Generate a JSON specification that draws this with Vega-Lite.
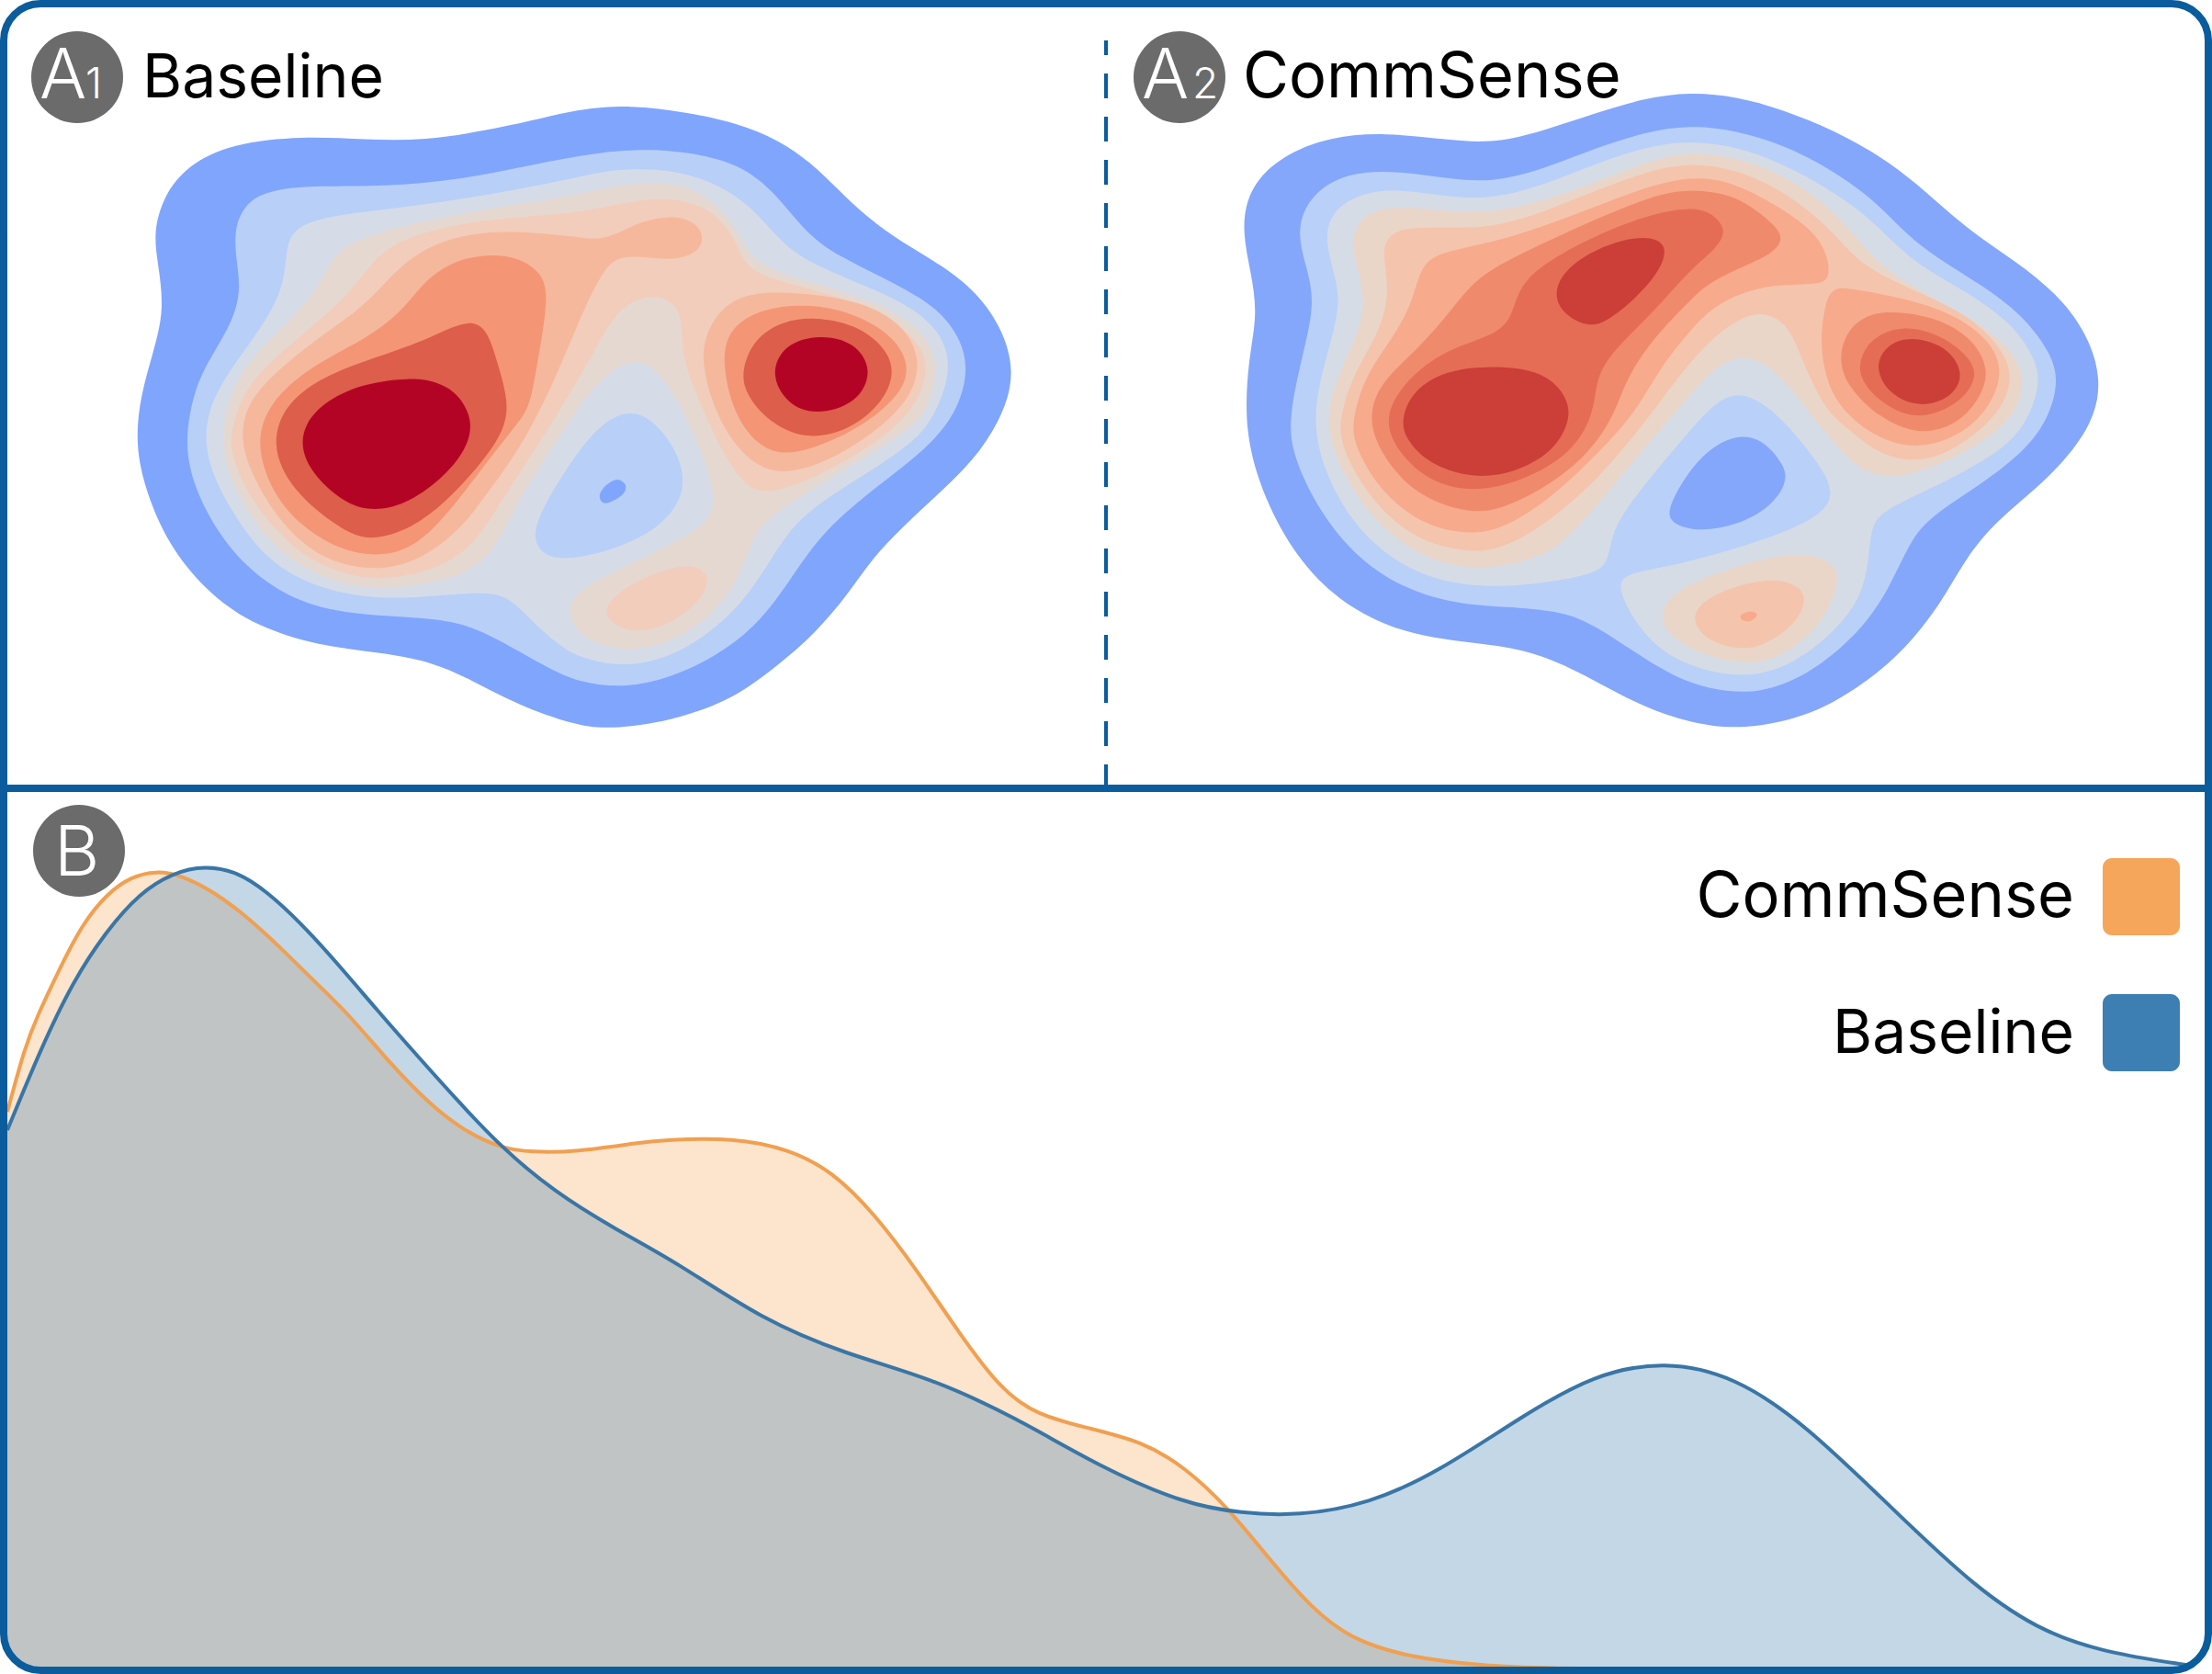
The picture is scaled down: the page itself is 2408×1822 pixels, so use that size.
{"$schema":"https://vega.github.io/schema/vega-lite/v6.json","width":2408,"height":1822,"padding":0,"autosize":"none","background":"#ffffff","config":{"view":{"stroke":null},"axis":{"domain":false,"ticks":false,"labels":false,"grid":false,"title":null}},
"encoding":{"x":{"field":"x","type":"quantitative","axis":null,"scale":{"domain":[0,2408],"nice":false,"zero":false}},"y":{"field":"y","type":"quantitative","axis":null,"scale":{"domain":[1822,0],"nice":false,"zero":false}}},
"layer":[
{"data":{"values":[
{"c":"a0","x":630,"y":119},{"c":"a0","x":687,"y":114},{"c":"a0","x":747,"y":122},{"c":"a0","x":803,"y":134},{"c":"a0","x":847,"y":152},{"c":"a0","x":883,"y":177},{"c":"a0","x":913,"y":207},{"c":"a0","x":940,"y":233},{"c":"a0","x":980,"y":263},{"c":"a0","x":1023,"y":287},{"c":"a0","x":1065,"y":319},{"c":"a0","x":1092,"y":360},{"c":"a0","x":1104,"y":403},{"c":"a0","x":1095,"y":445},{"c":"a0","x":1067,"y":493},{"c":"a0","x":1030,"y":530},{"c":"a0","x":983,"y":573},{"c":"a0","x":950,"y":607},{"c":"a0","x":923,"y":647},{"c":"a0","x":887,"y":690},{"c":"a0","x":847,"y":724},{"c":"a0","x":797,"y":762},{"c":"a0","x":730,"y":785},{"c":"a0","x":663,"y":794},{"c":"a0","x":625,"y":789},{"c":"a0","x":563,"y":767},{"c":"a0","x":513,"y":740},{"c":"a0","x":470,"y":720},{"c":"a0","x":413,"y":710},{"c":"a0","x":347,"y":703},{"c":"a0","x":280,"y":682},{"c":"a0","x":230,"y":649},{"c":"a0","x":186,"y":598},{"c":"a0","x":159,"y":537},{"c":"a0","x":147,"y":483},{"c":"a0","x":153,"y":430},{"c":"a0","x":167,"y":383},{"c":"a0","x":179,"y":337},{"c":"a0","x":172,"y":287},{"c":"a0","x":167,"y":253},{"c":"a0","x":178,"y":213},{"c":"a0","x":205,"y":179},{"c":"a0","x":253,"y":156},{"c":"a0","x":330,"y":148},{"c":"a0","x":397,"y":152},{"c":"a0","x":463,"y":153},{"c":"a0","x":530,"y":142},{"c":"a0","x":597,"y":127},
{"c":"a1","x":630,"y":169},{"c":"a1","x":697,"y":161},{"c":"a1","x":763,"y":167},{"c":"a1","x":811,"y":182},{"c":"a1","x":843,"y":210},{"c":"a1","x":867,"y":240},{"c":"a1","x":893,"y":267},{"c":"a1","x":930,"y":287},{"c":"a1","x":983,"y":313},{"c":"a1","x":1021,"y":336},{"c":"a1","x":1045,"y":367},{"c":"a1","x":1055,"y":403},{"c":"a1","x":1041,"y":451},{"c":"a1","x":1007,"y":490},{"c":"a1","x":963,"y":523},{"c":"a1","x":913,"y":563},{"c":"a1","x":880,"y":600},{"c":"a1","x":850,"y":647},{"c":"a1","x":820,"y":684},{"c":"a1","x":780,"y":714},{"c":"a1","x":730,"y":738},{"c":"a1","x":680,"y":749},{"c":"a1","x":630,"y":743},{"c":"a1","x":597,"y":727},{"c":"a1","x":563,"y":708},{"c":"a1","x":513,"y":680},{"c":"a1","x":463,"y":672},{"c":"a1","x":380,"y":669},{"c":"a1","x":320,"y":654},{"c":"a1","x":272,"y":621},{"c":"a1","x":239,"y":583},{"c":"a1","x":212,"y":533},{"c":"a1","x":200,"y":483},{"c":"a1","x":212,"y":420},{"c":"a1","x":233,"y":383},{"c":"a1","x":253,"y":350},{"c":"a1","x":262,"y":317},{"c":"a1","x":258,"y":287},{"c":"a1","x":254,"y":250},{"c":"a1","x":268,"y":219},{"c":"a1","x":297,"y":206},{"c":"a1","x":347,"y":202},{"c":"a1","x":420,"y":203},{"c":"a1","x":497,"y":196},{"c":"a1","x":563,"y":183},
{"c":"a2","x":630,"y":193},{"c":"a2","x":663,"y":185},{"c":"a2","x":713,"y":183},{"c":"a2","x":763,"y":192},{"c":"a2","x":808,"y":216},{"c":"a2","x":837,"y":247},{"c":"a2","x":860,"y":273},{"c":"a2","x":897,"y":293},{"c":"a2","x":957,"y":317},{"c":"a2","x":1001,"y":339},{"c":"a2","x":1029,"y":370},{"c":"a2","x":1035,"y":405},{"c":"a2","x":1019,"y":450},{"c":"a2","x":997,"y":480},{"c":"a2","x":947,"y":513},{"c":"a2","x":887,"y":550},{"c":"a2","x":857,"y":580},{"c":"a2","x":837,"y":613},{"c":"a2","x":807,"y":658},{"c":"a2","x":770,"y":691},{"c":"a2","x":730,"y":715},{"c":"a2","x":680,"y":727},{"c":"a2","x":630,"y":716},{"c":"a2","x":607,"y":701},{"c":"a2","x":580,"y":677},{"c":"a2","x":556,"y":651},{"c":"a2","x":530,"y":644},{"c":"a2","x":480,"y":648},{"c":"a2","x":413,"y":653},{"c":"a2","x":347,"y":641},{"c":"a2","x":296,"y":614},{"c":"a2","x":262,"y":573},{"c":"a2","x":232,"y":520},{"c":"a2","x":223,"y":483},{"c":"a2","x":226,"y":447},{"c":"a2","x":247,"y":407},{"c":"a2","x":277,"y":367},{"c":"a2","x":301,"y":330},{"c":"a2","x":311,"y":297},{"c":"a2","x":312,"y":263},{"c":"a2","x":325,"y":246},{"c":"a2","x":357,"y":235},{"c":"a2","x":430,"y":227},{"c":"a2","x":530,"y":213},
{"c":"a3","x":630,"y":212},{"c":"a3","x":663,"y":203},{"c":"a3","x":713,"y":198},{"c":"a3","x":748,"y":202},{"c":"a3","x":781,"y":222},{"c":"a3","x":804,"y":253},{"c":"a3","x":816,"y":278},{"c":"a3","x":837,"y":293},{"c":"a3","x":880,"y":307},{"c":"a3","x":937,"y":323},{"c":"a3","x":981,"y":342},{"c":"a3","x":1012,"y":370},{"c":"a3","x":1022,"y":405},{"c":"a3","x":1008,"y":450},{"c":"a3","x":990,"y":467},{"c":"a3","x":930,"y":505},{"c":"a3","x":870,"y":540},{"c":"a3","x":829,"y":570},{"c":"a3","x":817,"y":593},{"c":"a3","x":801,"y":638},{"c":"a3","x":770,"y":674},{"c":"a3","x":730,"y":700},{"c":"a3","x":683,"y":709},{"c":"a3","x":650,"y":701},{"c":"a3","x":628,"y":688},{"c":"a3","x":616,"y":663},{"c":"a3","x":630,"y":641},{"c":"a3","x":680,"y":617},{"c":"a3","x":730,"y":593},{"c":"a3","x":772,"y":569},{"c":"a3","x":780,"y":540},{"c":"a3","x":763,"y":490},{"c":"a3","x":744,"y":447},{"c":"a3","x":721,"y":408},{"c":"a3","x":693,"y":387},{"c":"a3","x":656,"y":409},{"c":"a3","x":630,"y":443},{"c":"a3","x":597,"y":493},{"c":"a3","x":563,"y":547},{"c":"a3","x":541,"y":594},{"c":"a3","x":514,"y":622},{"c":"a3","x":470,"y":635},{"c":"a3","x":417,"y":642},{"c":"a3","x":370,"y":636},{"c":"a3","x":319,"y":614},{"c":"a3","x":279,"y":573},{"c":"a3","x":252,"y":527},{"c":"a3","x":239,"y":480},{"c":"a3","x":252,"y":420},{"c":"a3","x":280,"y":383},{"c":"a3","x":317,"y":347},{"c":"a3","x":347,"y":313},{"c":"a3","x":362,"y":279},{"c":"a3","x":383,"y":262},{"c":"a3","x":447,"y":243},{"c":"a3","x":530,"y":227},
{"c":"a4","x":630,"y":232},{"c":"a4","x":673,"y":222},{"c":"a4","x":720,"y":214},{"c":"a4","x":764,"y":222},{"c":"a4","x":794,"y":247},{"c":"a4","x":806,"y":278},{"c":"a4","x":820,"y":297},{"c":"a4","x":863,"y":310},{"c":"a4","x":913,"y":323},{"c":"a4","x":964,"y":342},{"c":"a4","x":1002,"y":373},{"c":"a4","x":1012,"y":405},{"c":"a4","x":993,"y":450},{"c":"a4","x":947,"y":487},{"c":"a4","x":880,"y":524},{"c":"a4","x":833,"y":538},{"c":"a4","x":811,"y":529},{"c":"a4","x":787,"y":493},{"c":"a4","x":773,"y":463},{"c":"a4","x":757,"y":427},{"c":"a4","x":742,"y":387},{"c":"a4","x":743,"y":350},{"c":"a4","x":735,"y":329},{"c":"a4","x":707,"y":319},{"c":"a4","x":672,"y":336},{"c":"a4","x":650,"y":377},{"c":"a4","x":630,"y":412},{"c":"a4","x":603,"y":457},{"c":"a4","x":580,"y":493},{"c":"a4","x":543,"y":550},{"c":"a4","x":518,"y":591},{"c":"a4","x":480,"y":618},{"c":"a4","x":430,"y":630},{"c":"a4","x":390,"y":630},{"c":"a4","x":336,"y":611},{"c":"a4","x":296,"y":573},{"c":"a4","x":269,"y":537},{"c":"a4","x":251,"y":493},{"c":"a4","x":251,"y":473},{"c":"a4","x":261,"y":433},{"c":"a4","x":290,"y":397},{"c":"a4","x":330,"y":363},{"c":"a4","x":370,"y":330},{"c":"a4","x":397,"y":297},{"c":"a4","x":422,"y":266},{"c":"a4","x":480,"y":247},{"c":"a4","x":547,"y":237},
{"c":"a5","x":630,"y":258},{"c":"a5","x":647,"y":261},{"c":"a5","x":667,"y":257},{"c":"a5","x":693,"y":243},{"c":"a5","x":720,"y":236},{"c":"a5","x":745,"y":236},{"c":"a5","x":765,"y":249},{"c":"a5","x":765,"y":269},{"c":"a5","x":748,"y":280},{"c":"a5","x":723,"y":283},{"c":"a5","x":680,"y":277},{"c":"a5","x":662,"y":287},{"c":"a5","x":647,"y":313},{"c":"a5","x":630,"y":350},{"c":"a5","x":597,"y":430},{"c":"a5","x":563,"y":493},{"c":"a5","x":530,"y":537},{"c":"a5","x":504,"y":574},{"c":"a5","x":457,"y":611},{"c":"a5","x":407,"y":622},{"c":"a5","x":356,"y":611},{"c":"a5","x":316,"y":581},{"c":"a5","x":286,"y":540},{"c":"a5","x":261,"y":487},{"c":"a5","x":266,"y":443},{"c":"a5","x":297,"y":407},{"c":"a5","x":347,"y":367},{"c":"a5","x":397,"y":333},{"c":"a5","x":423,"y":303},{"c":"a5","x":456,"y":272},{"c":"a5","x":507,"y":254},{"c":"a5","x":563,"y":251},
{"c":"a5r","x":830,"y":316},{"c":"a5r","x":897,"y":321},{"c":"a5r","x":948,"y":332},{"c":"a5r","x":985,"y":356},{"c":"a5r","x":1002,"y":390},{"c":"a5r","x":995,"y":424},{"c":"a5r","x":975,"y":450},{"c":"a5r","x":947,"y":474},{"c":"a5r","x":897,"y":505},{"c":"a5r","x":843,"y":519},{"c":"a5r","x":806,"y":494},{"c":"a5r","x":778,"y":450},{"c":"a5r","x":762,"y":390},{"c":"a5r","x":771,"y":356},{"c":"a5r","x":792,"y":328},
{"c":"a6","x":530,"y":276},{"c":"a6","x":564,"y":280},{"c":"a6","x":589,"y":296},{"c":"a6","x":597,"y":320},{"c":"a6","x":589,"y":373},{"c":"a6","x":583,"y":407},{"c":"a6","x":576,"y":445},{"c":"a6","x":560,"y":465},{"c":"a6","x":530,"y":503},{"c":"a6","x":484,"y":564},{"c":"a6","x":447,"y":599},{"c":"a6","x":407,"y":606},{"c":"a6","x":369,"y":598},{"c":"a6","x":329,"y":574},{"c":"a6","x":296,"y":537},{"c":"a6","x":278,"y":483},{"c":"a6","x":292,"y":439},{"c":"a6","x":337,"y":399},{"c":"a6","x":397,"y":370},{"c":"a6","x":437,"y":340},{"c":"a6","x":459,"y":309},{"c":"a6","x":490,"y":285},
{"c":"a6r","x":873,"y":331},{"c":"a6r","x":914,"y":336},{"c":"a6r","x":958,"y":355},{"c":"a6r","x":985,"y":382},{"c":"a6r","x":990,"y":414},{"c":"a6r","x":964,"y":445},{"c":"a6r","x":925,"y":472},{"c":"a6r","x":863,"y":497},{"c":"a6r","x":828,"y":489},{"c":"a6r","x":798,"y":451},{"c":"a6r","x":785,"y":390},{"c":"a6r","x":795,"y":356},{"c":"a6r","x":829,"y":336},
{"c":"a7","x":517,"y":349},{"c":"a7","x":532,"y":362},{"c":"a7","x":544,"y":403},{"c":"a7","x":554,"y":440},{"c":"a7","x":548,"y":471},{"c":"a7","x":521,"y":508},{"c":"a7","x":484,"y":548},{"c":"a7","x":448,"y":575},{"c":"a7","x":407,"y":588},{"c":"a7","x":382,"y":582},{"c":"a7","x":346,"y":558},{"c":"a7","x":312,"y":524},{"c":"a7","x":296,"y":483},{"c":"a7","x":309,"y":442},{"c":"a7","x":347,"y":412},{"c":"a7","x":397,"y":393},{"c":"a7","x":457,"y":373},{"c":"a7","x":493,"y":355},
{"c":"a7r","x":887,"y":345},{"c":"a7r","x":931,"y":353},{"c":"a7r","x":962,"y":376},{"c":"a7r","x":975,"y":403},{"c":"a7r","x":962,"y":438},{"c":"a7r","x":924,"y":469},{"c":"a7r","x":877,"y":479},{"c":"a7r","x":836,"y":459},{"c":"a7r","x":811,"y":428},{"c":"a7r","x":807,"y":403},{"c":"a7r","x":821,"y":368},{"c":"a7r","x":853,"y":349},
{"c":"a8","x":447,"y":411},{"c":"a8","x":475,"y":415},{"c":"a8","x":499,"y":428},{"c":"a8","x":515,"y":457},{"c":"a8","x":509,"y":488},{"c":"a8","x":481,"y":522},{"c":"a8","x":440,"y":550},{"c":"a8","x":407,"y":556},{"c":"a8","x":379,"y":550},{"c":"a8","x":345,"y":522},{"c":"a8","x":327,"y":491},{"c":"a8","x":331,"y":461},{"c":"a8","x":356,"y":435},{"c":"a8","x":397,"y":417},
{"c":"a8r","x":893,"y":364},{"c":"a8r","x":930,"y":372},{"c":"a8r","x":951,"y":403},{"c":"a8r","x":933,"y":440},{"c":"a8r","x":887,"y":452},{"c":"a8r","x":857,"y":440},{"c":"a8r","x":838,"y":407},{"c":"a8r","x":854,"y":374},
{"c":"a1h","x":693,"y":446},{"c":"a1h","x":719,"y":465},{"c":"a1h","x":742,"y":500},{"c":"a1h","x":746,"y":538},{"c":"a1h","x":721,"y":572},{"c":"a1h","x":680,"y":594},{"c":"a1h","x":630,"y":608},{"c":"a1h","x":595,"y":608},{"c":"a1h","x":579,"y":588},{"c":"a1h","x":588,"y":556},{"c":"a1h","x":629,"y":490},{"c":"a1h","x":662,"y":454},
{"c":"a4b","x":752,"y":612},{"c":"a4b","x":774,"y":626},{"c":"a4b","x":765,"y":652},{"c":"a4b","x":731,"y":679},{"c":"a4b","x":693,"y":690},{"c":"a4b","x":665,"y":679},{"c":"a4b","x":657,"y":663},{"c":"a4b","x":672,"y":645},{"c":"a4b","x":707,"y":625},
{"c":"b0","x":1840,"y":100},{"c":"b0","x":1890,"y":105},{"c":"b0","x":1940,"y":119},{"c":"b0","x":1997,"y":142},{"c":"b0","x":2047,"y":170},{"c":"b0","x":2087,"y":200},{"c":"b0","x":2123,"y":233},{"c":"b0","x":2157,"y":260},{"c":"b0","x":2207,"y":293},{"c":"b0","x":2248,"y":329},{"c":"b0","x":2275,"y":370},{"c":"b0","x":2287,"y":413},{"c":"b0","x":2281,"y":451},{"c":"b0","x":2260,"y":487},{"c":"b0","x":2223,"y":527},{"c":"b0","x":2173,"y":567},{"c":"b0","x":2140,"y":607},{"c":"b0","x":2113,"y":657},{"c":"b0","x":2073,"y":708},{"c":"b0","x":2030,"y":744},{"c":"b0","x":1973,"y":779},{"c":"b0","x":1897,"y":795},{"c":"b0","x":1840,"y":787},{"c":"b0","x":1790,"y":770},{"c":"b0","x":1740,"y":743},{"c":"b0","x":1690,"y":717},{"c":"b0","x":1640,"y":703},{"c":"b0","x":1573,"y":697},{"c":"b0","x":1513,"y":684},{"c":"b0","x":1457,"y":654},{"c":"b0","x":1412,"y":608},{"c":"b0","x":1376,"y":543},{"c":"b0","x":1354,"y":470},{"c":"b0","x":1359,"y":390},{"c":"b0","x":1369,"y":343},{"c":"b0","x":1362,"y":297},{"c":"b0","x":1351,"y":247},{"c":"b0","x":1361,"y":202},{"c":"b0","x":1396,"y":169},{"c":"b0","x":1447,"y":149},{"c":"b0","x":1507,"y":144},{"c":"b0","x":1573,"y":152},{"c":"b0","x":1623,"y":156},{"c":"b0","x":1673,"y":145},{"c":"b0","x":1740,"y":122},{"c":"b0","x":1790,"y":107},
{"c":"b1","x":1840,"y":136},{"c":"b1","x":1890,"y":142},{"c":"b1","x":1940,"y":157},{"c":"b1","x":1990,"y":182},{"c":"b1","x":2040,"y":217},{"c":"b1","x":2073,"y":253},{"c":"b1","x":2107,"y":280},{"c":"b1","x":2157,"y":310},{"c":"b1","x":2201,"y":342},{"c":"b1","x":2232,"y":383},{"c":"b1","x":2241,"y":413},{"c":"b1","x":2232,"y":451},{"c":"b1","x":2208,"y":488},{"c":"b1","x":2157,"y":527},{"c":"b1","x":2100,"y":563},{"c":"b1","x":2079,"y":590},{"c":"b1","x":2057,"y":640},{"c":"b1","x":2028,"y":684},{"c":"b1","x":1983,"y":724},{"c":"b1","x":1940,"y":747},{"c":"b1","x":1897,"y":756},{"c":"b1","x":1840,"y":746},{"c":"b1","x":1790,"y":717},{"c":"b1","x":1740,"y":683},{"c":"b1","x":1707,"y":667},{"c":"b1","x":1657,"y":661},{"c":"b1","x":1590,"y":659},{"c":"b1","x":1527,"y":641},{"c":"b1","x":1473,"y":604},{"c":"b1","x":1432,"y":550},{"c":"b1","x":1405,"y":490},{"c":"b1","x":1404,"y":450},{"c":"b1","x":1417,"y":390},{"c":"b1","x":1432,"y":330},{"c":"b1","x":1422,"y":290},{"c":"b1","x":1411,"y":250},{"c":"b1","x":1426,"y":212},{"c":"b1","x":1467,"y":187},{"c":"b1","x":1523,"y":186},{"c":"b1","x":1580,"y":195},{"c":"b1","x":1623,"y":198},{"c":"b1","x":1673,"y":187},{"c":"b1","x":1740,"y":160},{"c":"b1","x":1790,"y":144},
{"c":"b2","x":1840,"y":154},{"c":"b2","x":1890,"y":159},{"c":"b2","x":1940,"y":178},{"c":"b2","x":1990,"y":205},{"c":"b2","x":2030,"y":233},{"c":"b2","x":2057,"y":260},{"c":"b2","x":2090,"y":290},{"c":"b2","x":2140,"y":317},{"c":"b2","x":2191,"y":352},{"c":"b2","x":2215,"y":390},{"c":"b2","x":2221,"y":414},{"c":"b2","x":2211,"y":451},{"c":"b2","x":2188,"y":484},{"c":"b2","x":2140,"y":513},{"c":"b2","x":2090,"y":537},{"c":"b2","x":2049,"y":557},{"c":"b2","x":2037,"y":573},{"c":"b2","x":2035,"y":603},{"c":"b2","x":2028,"y":648},{"c":"b2","x":1997,"y":688},{"c":"b2","x":1950,"y":725},{"c":"b2","x":1897,"y":739},{"c":"b2","x":1840,"y":726},{"c":"b2","x":1802,"y":704},{"c":"b2","x":1778,"y":674},{"c":"b2","x":1761,"y":640},{"c":"b2","x":1768,"y":625},{"c":"b2","x":1807,"y":618},{"c":"b2","x":1840,"y":611},{"c":"b2","x":1907,"y":592},{"c":"b2","x":1965,"y":571},{"c":"b2","x":1998,"y":546},{"c":"b2","x":1988,"y":516},{"c":"b2","x":1963,"y":483},{"c":"b2","x":1934,"y":449},{"c":"b2","x":1897,"y":425},{"c":"b2","x":1869,"y":436},{"c":"b2","x":1840,"y":468},{"c":"b2","x":1807,"y":507},{"c":"b2","x":1770,"y":553},{"c":"b2","x":1754,"y":583},{"c":"b2","x":1751,"y":611},{"c":"b2","x":1737,"y":625},{"c":"b2","x":1673,"y":636},{"c":"b2","x":1613,"y":640},{"c":"b2","x":1546,"y":628},{"c":"b2","x":1489,"y":590},{"c":"b2","x":1449,"y":533},{"c":"b2","x":1426,"y":462},{"c":"b2","x":1443,"y":390},{"c":"b2","x":1461,"y":330},{"c":"b2","x":1450,"y":290},{"c":"b2","x":1441,"y":253},{"c":"b2","x":1456,"y":222},{"c":"b2","x":1497,"y":206},{"c":"b2","x":1540,"y":208},{"c":"b2","x":1590,"y":216},{"c":"b2","x":1633,"y":215},{"c":"b2","x":1690,"y":198},{"c":"b2","x":1757,"y":170},{"c":"b2","x":1807,"y":157},
{"c":"b3","x":1840,"y":166},{"c":"b3","x":1890,"y":171},{"c":"b3","x":1940,"y":190},{"c":"b3","x":1983,"y":218},{"c":"b3","x":2017,"y":253},{"c":"b3","x":2043,"y":287},{"c":"b3","x":2090,"y":317},{"c":"b3","x":2157,"y":353},{"c":"b3","x":2192,"y":383},{"c":"b3","x":2205,"y":414},{"c":"b3","x":2194,"y":451},{"c":"b3","x":2160,"y":481},{"c":"b3","x":2107,"y":508},{"c":"b3","x":2057,"y":523},{"c":"b3","x":2019,"y":509},{"c":"b3","x":1990,"y":473},{"c":"b3","x":1970,"y":450},{"c":"b3","x":1940,"y":409},{"c":"b3","x":1902,"y":383},{"c":"b3","x":1869,"y":398},{"c":"b3","x":1840,"y":428},{"c":"b3","x":1823,"y":450},{"c":"b3","x":1773,"y":507},{"c":"b3","x":1708,"y":588},{"c":"b3","x":1673,"y":608},{"c":"b3","x":1610,"y":622},{"c":"b3","x":1546,"y":608},{"c":"b3","x":1489,"y":561},{"c":"b3","x":1452,"y":497},{"c":"b3","x":1443,"y":453},{"c":"b3","x":1457,"y":407},{"c":"b3","x":1481,"y":357},{"c":"b3","x":1486,"y":323},{"c":"b3","x":1477,"y":290},{"c":"b3","x":1470,"y":257},{"c":"b3","x":1486,"y":231},{"c":"b3","x":1523,"y":224},{"c":"b3","x":1573,"y":230},{"c":"b3","x":1623,"y":232},{"c":"b3","x":1690,"y":217},{"c":"b3","x":1757,"y":190},{"c":"b3","x":1807,"y":172},
{"c":"b4","x":1840,"y":177},{"c":"b4","x":1890,"y":184},{"c":"b4","x":1940,"y":207},{"c":"b4","x":1983,"y":240},{"c":"b4","x":2007,"y":267},{"c":"b4","x":2030,"y":290},{"c":"b4","x":2073,"y":312},{"c":"b4","x":2140,"y":340},{"c":"b4","x":2178,"y":377},{"c":"b4","x":2193,"y":411},{"c":"b4","x":2176,"y":451},{"c":"b4","x":2140,"y":481},{"c":"b4","x":2107,"y":499},{"c":"b4","x":2073,"y":502},{"c":"b4","x":2040,"y":491},{"c":"b4","x":2013,"y":467},{"c":"b4","x":1990,"y":450},{"c":"b4","x":1968,"y":407},{"c":"b4","x":1954,"y":370},{"c":"b4","x":1941,"y":349},{"c":"b4","x":1915,"y":338},{"c":"b4","x":1882,"y":352},{"c":"b4","x":1840,"y":392},{"c":"b4","x":1802,"y":445},{"c":"b4","x":1740,"y":523},{"c":"b4","x":1673,"y":578},{"c":"b4","x":1633,"y":597},{"c":"b4","x":1600,"y":602},{"c":"b4","x":1539,"y":588},{"c":"b4","x":1489,"y":541},{"c":"b4","x":1458,"y":483},{"c":"b4","x":1459,"y":453},{"c":"b4","x":1473,"y":407},{"c":"b4","x":1501,"y":363},{"c":"b4","x":1512,"y":323},{"c":"b4","x":1508,"y":290},{"c":"b4","x":1505,"y":267},{"c":"b4","x":1519,"y":249},{"c":"b4","x":1557,"y":247},{"c":"b4","x":1607,"y":249},{"c":"b4","x":1657,"y":240},{"c":"b4","x":1723,"y":213},{"c":"b4","x":1790,"y":187},
{"c":"b3b","x":1967,"y":600},{"c":"b3b","x":2000,"y":615},{"c":"b3b","x":2002,"y":638},{"c":"b3b","x":1981,"y":682},{"c":"b3b","x":1940,"y":715},{"c":"b3b","x":1897,"y":725},{"c":"b3b","x":1840,"y":708},{"c":"b3b","x":1811,"y":685},{"c":"b3b","x":1807,"y":663},{"c":"b3b","x":1829,"y":638},{"c":"b3b","x":1907,"y":610},
{"c":"b4b","x":1931,"y":628},{"c":"b4b","x":1959,"y":638},{"c":"b4b","x":1967,"y":653},{"c":"b4b","x":1955,"y":679},{"c":"b4b","x":1924,"y":701},{"c":"b4b","x":1897,"y":708},{"c":"b4b","x":1861,"y":699},{"c":"b4b","x":1842,"y":678},{"c":"b4b","x":1848,"y":658},{"c":"b4b","x":1880,"y":640},
{"c":"b5","x":1840,"y":190},{"c":"b5","x":1890,"y":199},{"c":"b5","x":1940,"y":227},{"c":"b5","x":1975,"y":252},{"c":"b5","x":1990,"y":278},{"c":"b5","x":1992,"y":303},{"c":"b5","x":1980,"y":310},{"c":"b5","x":1933,"y":309},{"c":"b5","x":1890,"y":320},{"c":"b5","x":1860,"y":338},{"c":"b5","x":1840,"y":360},{"c":"b5","x":1807,"y":400},{"c":"b5","x":1780,"y":450},{"c":"b5","x":1740,"y":493},{"c":"b5","x":1690,"y":541},{"c":"b5","x":1640,"y":574},{"c":"b5","x":1600,"y":583},{"c":"b5","x":1546,"y":571},{"c":"b5","x":1499,"y":531},{"c":"b5","x":1472,"y":480},{"c":"b5","x":1473,"y":453},{"c":"b5","x":1487,"y":407},{"c":"b5","x":1517,"y":367},{"c":"b5","x":1537,"y":330},{"c":"b5","x":1544,"y":300},{"c":"b5","x":1556,"y":279},{"c":"b5","x":1593,"y":270},{"c":"b5","x":1640,"y":260},{"c":"b5","x":1707,"y":237},{"c":"b5","x":1773,"y":210},
{"c":"b5r","x":2001,"y":313},{"c":"b5r","x":2012,"y":314},{"c":"b5r","x":2057,"y":321},{"c":"b5r","x":2124,"y":339},{"c":"b5r","x":2169,"y":372},{"c":"b5r","x":2182,"y":410},{"c":"b5r","x":2159,"y":454},{"c":"b5r","x":2124,"y":479},{"c":"b5r","x":2080,"y":489},{"c":"b5r","x":2039,"y":474},{"c":"b5r","x":2009,"y":450},{"c":"b5r","x":1989,"y":420},{"c":"b5r","x":1981,"y":373},{"c":"b5r","x":1986,"y":337},{"c":"b5r","x":1991,"y":319},
{"c":"b6","x":1840,"y":206},{"c":"b6","x":1890,"y":211},{"c":"b6","x":1934,"y":246},{"c":"b6","x":1941,"y":260},{"c":"b6","x":1931,"y":276},{"c":"b6","x":1890,"y":293},{"c":"b6","x":1857,"y":310},{"c":"b6","x":1840,"y":327},{"c":"b6","x":1807,"y":360},{"c":"b6","x":1772,"y":407},{"c":"b6","x":1758,"y":451},{"c":"b6","x":1730,"y":494},{"c":"b6","x":1683,"y":531},{"c":"b6","x":1633,"y":555},{"c":"b6","x":1597,"y":559},{"c":"b6","x":1539,"y":538},{"c":"b6","x":1502,"y":493},{"c":"b6","x":1489,"y":453},{"c":"b6","x":1503,"y":416},{"c":"b6","x":1540,"y":383},{"c":"b6","x":1573,"y":347},{"c":"b6","x":1600,"y":310},{"c":"b6","x":1633,"y":287},{"c":"b6","x":1690,"y":260},{"c":"b6","x":1757,"y":230},{"c":"b6","x":1807,"y":211},
{"c":"b6r","x":2057,"y":338},{"c":"b6r","x":2108,"y":345},{"c":"b6r","x":2149,"y":369},{"c":"b6r","x":2168,"y":407},{"c":"b6r","x":2149,"y":444},{"c":"b6r","x":2124,"y":465},{"c":"b6r","x":2087,"y":473},{"c":"b6r","x":2046,"y":455},{"c":"b6r","x":2011,"y":421},{"c":"b6r","x":2001,"y":390},{"c":"b6r","x":2011,"y":359},{"c":"b6r","x":2032,"y":343},
{"c":"b7","x":1840,"y":226},{"c":"b7","x":1862,"y":230},{"c":"b7","x":1881,"y":250},{"c":"b7","x":1868,"y":271},{"c":"b7","x":1840,"y":293},{"c":"b7","x":1800,"y":340},{"c":"b7","x":1750,"y":387},{"c":"b7","x":1737,"y":417},{"c":"b7","x":1735,"y":451},{"c":"b7","x":1711,"y":494},{"c":"b7","x":1657,"y":524},{"c":"b7","x":1600,"y":537},{"c":"b7","x":1549,"y":521},{"c":"b7","x":1516,"y":484},{"c":"b7","x":1508,"y":453},{"c":"b7","x":1526,"y":419},{"c":"b7","x":1567,"y":383},{"c":"b7","x":1624,"y":366},{"c":"b7","x":1646,"y":348},{"c":"b7","x":1653,"y":310},{"c":"b7","x":1690,"y":280},{"c":"b7","x":1757,"y":247},{"c":"b7","x":1807,"y":231},
{"c":"b7r","x":2073,"y":353},{"c":"b7r","x":2114,"y":365},{"c":"b7r","x":2145,"y":389},{"c":"b7r","x":2153,"y":411},{"c":"b7r","x":2134,"y":439},{"c":"b7r","x":2090,"y":458},{"c":"b7r","x":2052,"y":442},{"c":"b7r","x":2028,"y":418},{"c":"b7r","x":2022,"y":397},{"c":"b7r","x":2035,"y":368},
{"c":"b8","x":1617,"y":398},{"c":"b8","x":1675,"y":402},{"c":"b8","x":1702,"y":425},{"c":"b8","x":1712,"y":453},{"c":"b8","x":1692,"y":492},{"c":"b8","x":1648,"y":515},{"c":"b8","x":1603,"y":521},{"c":"b8","x":1555,"y":505},{"c":"b8","x":1530,"y":478},{"c":"b8","x":1525,"y":456},{"c":"b8","x":1538,"y":425},{"c":"b8","x":1572,"y":404},
{"c":"b8t","x":1792,"y":256},{"c":"b8t","x":1815,"y":265},{"c":"b8t","x":1810,"y":291},{"c":"b8t","x":1781,"y":325},{"c":"b8t","x":1748,"y":351},{"c":"b8t","x":1729,"y":356},{"c":"b8t","x":1701,"y":342},{"c":"b8t","x":1690,"y":317},{"c":"b8t","x":1708,"y":288},{"c":"b8t","x":1750,"y":265},
{"c":"b8r","x":2083,"y":366},{"c":"b8r","x":2120,"y":377},{"c":"b8r","x":2139,"y":407},{"c":"b8r","x":2125,"y":433},{"c":"b8r","x":2090,"y":444},{"c":"b8r","x":2057,"y":430},{"c":"b8r","x":2040,"y":400},{"c":"b8r","x":2054,"y":374},
{"c":"b0h","x":1897,"y":472},{"c":"b0h","x":1922,"y":481},{"c":"b0h","x":1942,"y":506},{"c":"b0h","x":1946,"y":524},{"c":"b0h","x":1928,"y":552},{"c":"b0h","x":1890,"y":572},{"c":"b0h","x":1850,"y":579},{"c":"b0h","x":1818,"y":570},{"c":"b0h","x":1815,"y":553},{"c":"b0h","x":1839,"y":511},{"c":"b0h","x":1866,"y":484}
]},
"transform":[{"window":[{"op":"row_number","as":"i"}]}],
"mark":{"type":"line","interpolate":"basis-closed","strokeWidth":0,"clip":false},
"encoding":{"order":{"field":"i","type":"quantitative"},"fill":{"field":"c","type":"nominal","legend":null,"scale":{
"domain":["a0","a1","a1h","a2","a3","a4","a4b","a5","a5r","a6","a6r","a7","a7r","a8","a8r","b0","b0h","b1","b2","b3","b3b","b4","b4b","b5","b5r","b6","b6r","b7","b7r","b8","b8r","b8t"],
"range":["#80a5fd","#b8cff8","#b8cff8","#d5dce8","#e5d8d1","#f2cdbb","#f2cdbb","#f6b89c","#f6b89c","#f49676","#f49676","#dd5e4a","#dd5e4a","#b40426","#b40426","#84a7fb","#84a7fb","#b9d0f9","#d6dce5","#ead5c9","#ead5c9","#f5c4ac","#f5c4ac","#f7aa8c","#f7aa8c","#f08a6c","#f08a6c","#e56d56","#e56d56","#cb3f38","#cb3f38","#cb3f38"]}}}},
{"data":{"values":[{"x":653,"y":538},{"x":660,"y":528},{"x":672,"y":522},{"x":681,"y":528},{"x":678,"y":538},{"x":663,"y":547},{"x":655,"y":546}]},"transform":[{"window":[{"op":"row_number","as":"i"}]}],"mark":{"type":"line","interpolate":"cardinal-closed","strokeWidth":0,"fill":"#80a5fd"},"encoding":{"order":{"field":"i","type":"quantitative"}}},
{"data":{"values":[{"x":1895,"y":670},{"x":1903,"y":666},{"x":1911,"y":667},{"x":1912,"y":671},{"x":1905,"y":676},{"x":1897,"y":675}]},"transform":[{"window":[{"op":"row_number","as":"i"}]}],"mark":{"type":"line","interpolate":"cardinal-closed","strokeWidth":0,"fill":"#f7aa8c"},"encoding":{"order":{"field":"i","type":"quantitative"}}},
{"data":{"name":"commsense","values":[{"x":8,"y":1210},{"x":27,"y":1140},{"x":40,"y":1107},{"x":67,"y":1050},{"x":89,"y":1007},{"x":116,"y":973},{"x":143,"y":954},{"x":170,"y":948},{"x":196,"y":952},{"x":232,"y":970},{"x":268,"y":997},{"x":304,"y":1030},{"x":344,"y":1070},{"x":379,"y":1103},{"x":424,"y":1157},{"x":469,"y":1203},{"x":504,"y":1230},{"x":545,"y":1250},{"x":580,"y":1254},{"x":625,"y":1254},{"x":700,"y":1243},{"x":722,"y":1241},{"x":799,"y":1238},{"x":860,"y":1251},{"x":906,"y":1275},{"x":952,"y":1321},{"x":998,"y":1382},{"x":1044,"y":1451},{"x":1090,"y":1513},{"x":1129,"y":1540},{"x":1183,"y":1554},{"x":1244,"y":1569},{"x":1290,"y":1597},{"x":1336,"y":1640},{"x":1382,"y":1697},{"x":1428,"y":1751},{"x":1474,"y":1786},{"x":1536,"y":1804},{"x":1612,"y":1813},{"x":1689,"y":1816},{"x":1800,"y":1817}]},
"mark":{"type":"area","interpolate":"basis","color":"#f5a65b","fillOpacity":0.3,"strokeWidth":0},"encoding":{"y2":{"datum":1818}}},
{"data":{"name":"baseline","values":[{"x":8,"y":1230},{"x":45,"y":1140},{"x":80,"y":1067},{"x":116,"y":1013},{"x":152,"y":972},{"x":188,"y":950},{"x":223,"y":942},{"x":259,"y":949},{"x":290,"y":970},{"x":326,"y":1003},{"x":366,"y":1047},{"x":411,"y":1100},{"x":455,"y":1150},{"x":500,"y":1200},{"x":545,"y":1248},{"x":603,"y":1297},{"x":670,"y":1338},{"x":737,"y":1374},{"x":829,"y":1436},{"x":921,"y":1474},{"x":1014,"y":1500},{"x":1106,"y":1543},{"x":1198,"y":1597},{"x":1290,"y":1637},{"x":1351,"y":1647},{"x":1413,"y":1650},{"x":1490,"y":1637},{"x":1566,"y":1602},{"x":1659,"y":1540},{"x":1735,"y":1496},{"x":1812,"y":1481},{"x":1889,"y":1498},{"x":1966,"y":1551},{"x":2058,"y":1640},{"x":2150,"y":1728},{"x":2227,"y":1779},{"x":2304,"y":1801},{"x":2380,"y":1812},{"x":2400,"y":1815}]},
"mark":{"type":"area","interpolate":"basis","color":"#3d7fb3","fillOpacity":0.31,"strokeWidth":0},"encoding":{"y2":{"datum":1818}}},
{"data":{"name":"commsense"},"mark":{"type":"line","interpolate":"basis","color":"#f0a050","strokeWidth":4}},
{"data":{"name":"baseline"},"mark":{"type":"line","interpolate":"basis","color":"#3a76a5","strokeWidth":4}},
{"data":{"values":[{"x":1204,"y":44,"y2":858}]},"mark":{"type":"rule","color":"#0a5c9c","strokeWidth":4,"strokeDash":[27,20],"strokeDashOffset":11},"encoding":{"y2":{"field":"y2"}}},
{"data":{"values":[{"x":4,"x2":2404,"y":858}]},"mark":{"type":"rule","color":"#0a5c9c","strokeWidth":8},"encoding":{"x2":{"field":"x2"}}},
{"data":{"values":[{"x":-16,"x2":2424,"y":-16,"y2":1838}]},"mark":{"type":"rect","fill":null,"fillOpacity":0,"stroke":"#ffffff","strokeWidth":40,"cornerRadius":62,"clip":false},"encoding":{"x2":{"field":"x2"},"y2":{"field":"y2"}}},
{"data":{"values":[{"x":4,"x2":2404,"y":4,"y2":1818}]},"mark":{"type":"rect","fill":null,"fillOpacity":0,"stroke":"#0a5c9c","strokeWidth":8,"cornerRadius":40},"encoding":{"x2":{"field":"x2"},"y2":{"field":"y2"}}},
{"data":{"values":[{"x":84,"y":84},{"x":1284,"y":84},{"x":86,"y":926}]},"mark":{"type":"point","filled":true,"color":"#6b6b6b","opacity":1,"size":10000,"shape":"circle"}},
{"data":{"values":[{"x":43,"y":107,"t":"A"},{"x":1243,"y":107,"t":"A"},{"x":59,"y":953,"t":"B"}]},"mark":{"type":"text","font":"Inter","fontSize":76,"fontWeight":300,"color":"#ffffff","align":"left","baseline":"alphabetic"},"encoding":{"text":{"field":"t"}}},
{"data":{"values":[{"x":93,"y":107,"t":"1"},{"x":1298,"y":107,"t":"2"}]},"mark":{"type":"text","font":"Inter","fontSize":46,"fontWeight":300,"color":"#ffffff","align":"left","baseline":"alphabetic"},"encoding":{"text":{"field":"t"}}},
{"data":{"values":[{"x":155,"y":106,"t":"Baseline"}]},"mark":{"type":"text","font":"Inter","fontSize":66,"fontWeight":400,"color":"#000000","align":"left","baseline":"alphabetic"},"encoding":{"text":{"field":"t"}}},
{"data":{"values":[{"x":1353,"y":106,"t":"CommSense"}]},"mark":{"type":"text","font":"Inter","fontSize":68.5,"fontWeight":400,"color":"#000000","align":"left","baseline":"alphabetic"},"encoding":{"text":{"field":"t"}}},
{"data":{"values":[{"x":2258,"y":998,"t":"CommSense"}]},"mark":{"type":"text","font":"Inter","fontSize":68.5,"fontWeight":400,"color":"#000000","align":"right","baseline":"alphabetic"},"encoding":{"text":{"field":"t"}}},
{"data":{"values":[{"x":2258,"y":1146,"t":"Baseline"}]},"mark":{"type":"text","font":"Inter","fontSize":66,"fontWeight":400,"color":"#000000","align":"right","baseline":"alphabetic"},"encoding":{"text":{"field":"t"}}},
{"data":{"values":[{"x":2289,"x2":2373,"y":934,"y2":1018}]},"mark":{"type":"rect","cornerRadius":10,"fill":"#f5a65b"},"encoding":{"x2":{"field":"x2"},"y2":{"field":"y2"}}},
{"data":{"values":[{"x":2289,"x2":2373,"y":1082,"y2":1166}]},"mark":{"type":"rect","cornerRadius":10,"fill":"#3d7fb3"},"encoding":{"x2":{"field":"x2"},"y2":{"field":"y2"}}}
]}
